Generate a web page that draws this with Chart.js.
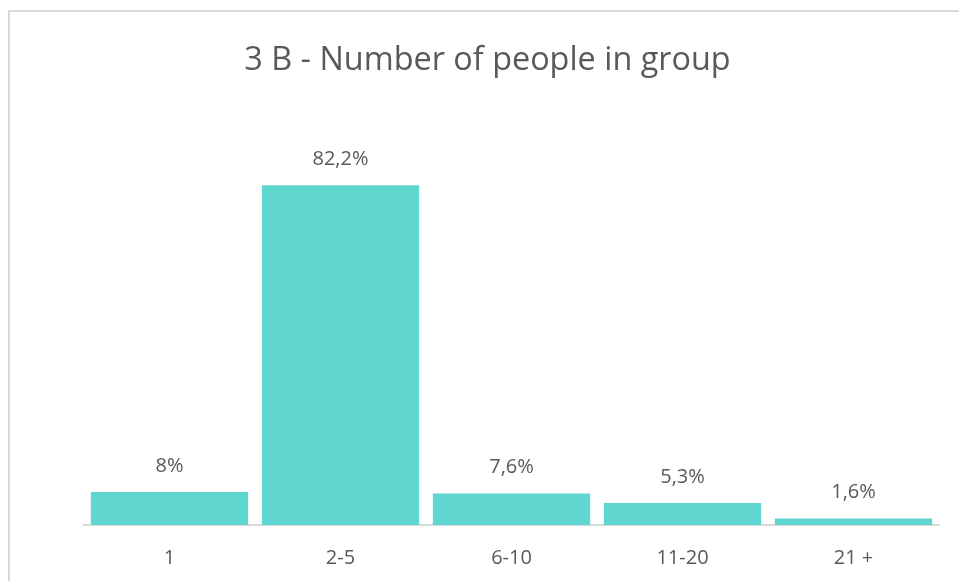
<!DOCTYPE html>
<html>
<head>
<meta charset="utf-8">
<script src="https://cdn.jsdelivr.net/npm/chart.js@4.4.1/dist/chart.umd.min.js"></script>
<style>
  html, body { margin: 0; padding: 0; background: #fff; overflow: hidden; }
  #wrap { position: relative; width: 959px; height: 581px; }
  #frame { position: absolute; left: 8px; top: 10px; width: 1000px; height: 1000px;
           border: 2px solid #d9d9d9; box-sizing: border-box; }
  #myChart { position: absolute; left: 0; top: 0; }
</style>
</head>
<body>
<div id="wrap">
  <div id="frame"></div>
  <canvas id="myChart" width="959" height="581"></canvas>
</div>
<script>
// data
const groups = ["1", "2-5", "6-10", "11-20", "21 +"];
const shares = [8, 82.2, 7.6, 5.3, 1.6];
const shareLabels = ["8%", "82,2%", "7,6%", "5,3%", "1,6%"];

const FONT = '"Open Sans", sans-serif';
const GREY = '#595959';

// value labels above the bars
const barLabels = {
  id: 'barLabels',
  afterDatasetsDraw(chart) {
    const ctx = chart.ctx;
    const meta = chart.getDatasetMeta(0);
    ctx.save();
    ctx.font = '20px ' + FONT;
    ctx.fillStyle = GREY;
    ctx.textAlign = 'center';
    ctx.textBaseline = 'middle';
    meta.data.forEach((bar, i) => {
      ctx.fillText(shareLabels[i], bar.x, bar.y - 26);
    });
    ctx.restore();
  }
};

const ctx = document.getElementById('myChart').getContext('2d');
new Chart(ctx, {
  type: 'bar',
  data: {
    labels: groups,
    datasets: [{
      data: shares,
      backgroundColor: '#60d6d0',
      borderWidth: 0,
      barPercentage: 0.92,
      categoryPercentage: 1
    }]
  },
  options: {
    responsive: false,
    animation: false,
    layout: { padding: { left: 36, right: 20, top: 10, bottom: 0 } },
    plugins: {
      legend: { display: false },
      tooltip: { enabled: false },
      title: {
        display: true,
        text: '3 B - Number of people in group',
        color: GREY,
        font: { family: FONT, size: 32.4, weight: 'normal' },
        padding: { top: 31, bottom: 73 }
      }
    },
    scales: {
      x: {
        grid: { display: false, drawTicks: false },
        border: { display: true, color: '#d9d9d9', width: 2 },
        ticks: { color: GREY, font: { family: FONT, size: 20 }, padding: 21 },
        afterFit(scale) { scale.height = 56; }
      },
      y: {
        min: 0,
        max: 90,
        grid: { display: false, drawTicks: false },
        border: { display: false },
        ticks: { display: false },
        afterFit(scale) { scale.width = 48; }
      }
    }
  },
  plugins: [barLabels]
});
</script>
</body>
</html>
